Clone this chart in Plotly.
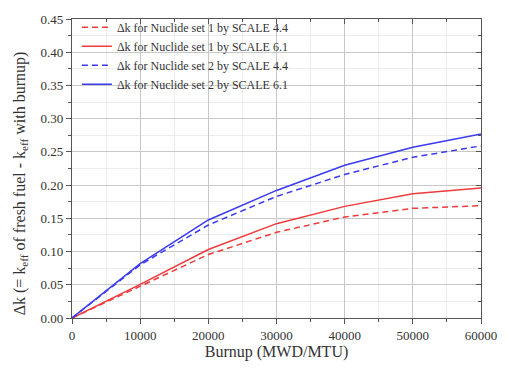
import plotly.graph_objects as go

burnup = [0, 10000, 20000, 30000, 40000, 50000, 60000]
set1_scale44 = [0.0, 0.048, 0.0955, 0.129, 0.152, 0.165, 0.169]
set1_scale61 = [0.0, 0.0505, 0.103, 0.142, 0.168, 0.187, 0.1955]
set2_scale44 = [0.0, 0.080, 0.140, 0.183, 0.216, 0.242, 0.259]
set2_scale61 = [0.0, 0.0817, 0.1475, 0.192, 0.230, 0.257, 0.277]

series_names = [
    "Δk for Nuclide set 1 by SCALE 4.4",
    "Δk for Nuclide set 1 by SCALE 6.1",
    "Δk for Nuclide set 2 by SCALE 4.4",
    "Δk for Nuclide set 2 by SCALE 6.1",
]
y_title = "Δk (= k<sub>eff</sub> of fresh fuel - k<sub>eff</sub> with burnup)"

RED = "#ee3a3a"
BLUE = "#3a3aee"
FONT = "Liberation Serif, Times New Roman, serif"
INK = "#333333"
FRAME = "#555555"
DASH = "6px,4px"

fig = go.Figure()
for name, vals, color, dash in [
    (series_names[0], set1_scale44, RED, DASH),
    (series_names[1], set1_scale61, RED, "solid"),
    (series_names[2], set2_scale44, BLUE, DASH),
    (series_names[3], set2_scale61, BLUE, "solid"),
]:
    fig.add_trace(go.Scatter(x=burnup, y=vals, mode="lines", name=name,
                             line=dict(color=color, width=1.5, dash=dash)))

# empty trace to carry the mirrored top/right axes
fig.add_trace(go.Scatter(x=[None], y=[None], xaxis="x2", yaxis="y2",
                         showlegend=False, hoverinfo="skip"))

axis_common = dict(showline=True, linecolor=FRAME, linewidth=1.3,
                   tickfont=dict(family=FONT, size=13, color=INK),
                   zeroline=False)

fig.update_layout(
    width=509, height=372,
    margin=dict(l=72, r=24, t=15, b=54),
    paper_bgcolor="white", plot_bgcolor="white",
    font=dict(family=FONT, color=INK),
    xaxis=dict(range=[0, 60000], tickvals=[0, 10000, 20000, 30000, 40000, 50000, 60000],
               ticktext=["0", "10000", "20000", "30000", "40000", "50000", "60000"],
               ticks="outside", ticklen=5, tickcolor=FRAME,
               showgrid=True, gridcolor="#c8c8c8", gridwidth=1,
               minor=dict(dtick=5000, ticks="outside", ticklen=3, tickcolor=FRAME,
                          showgrid=True, gridcolor="#ececec"),
               title=dict(text="Burnup (MWD/MTU)", font=dict(family=FONT, size=16, color=INK),
                          standoff=4),
               **axis_common),
    yaxis=dict(range=[0, 0.45], tickvals=[i * 0.05 for i in range(10)],
               ticktext=[f"{i * 0.05:.2f}" for i in range(10)],
               ticks="outside", ticklen=5, tickcolor=FRAME,
               showgrid=True, gridcolor="#c8c8c8", gridwidth=1,
               minor=dict(dtick=0.025, ticks="outside", ticklen=3, tickcolor=FRAME,
                          showgrid=True, gridcolor="#ececec"),
               **axis_common),
    xaxis2=dict(overlaying="x", matches="x", side="top", anchor="y2",
                range=[0, 60000], dtick=10000, ticks="inside", ticklen=5, tickcolor=FRAME,
                showticklabels=False, showgrid=False, showline=True, linecolor=FRAME,
                linewidth=1.3, zeroline=False,
                minor=dict(dtick=5000, ticks="inside", ticklen=3, tickcolor=FRAME)),
    yaxis2=dict(overlaying="y", matches="y", side="right", anchor="x2",
                range=[0, 0.45], dtick=0.05, ticks="inside", ticklen=5, tickcolor=FRAME,
                showticklabels=False, showgrid=False, showline=True, linecolor=FRAME,
                linewidth=1.3, zeroline=False,
                minor=dict(dtick=0.025, ticks="inside", ticklen=3, tickcolor=FRAME)),
    legend=dict(x=0.012, y=1.021, xanchor="left", yanchor="top",
                bgcolor="rgba(255,255,255,0)", borderwidth=0,
                font=dict(family=FONT, size=12, color=INK),
                tracegroupgap=0, itemwidth=30),
    showlegend=True,
    # white backing behind the legend, above the grid but below the curves
    shapes=[dict(type="rect", xref="paper", yref="paper", layer="between",
                 x0=0.0097, x1=0.516, y0=0.7525, y1=0.99,
                 fillcolor="white", line=dict(width=0))],
    annotations=[dict(text=y_title, textangle=-90, xref="paper", yref="paper",
                      x=-0.126, y=0.452, xanchor="center", yanchor="middle",
                      showarrow=False, font=dict(family=FONT, size=16, color=INK))],
)

fig.write_html("out.html")
